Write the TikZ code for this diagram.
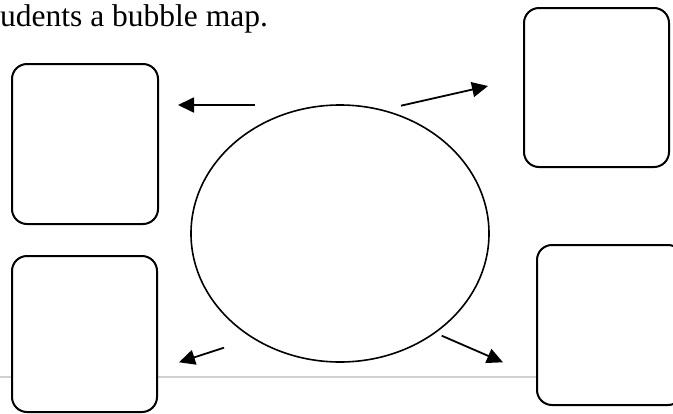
\documentclass[tikz,border=0pt]{standalone}
\usepackage{fontspec}
\setmainfont{Liberation Serif}
\usetikzlibrary{arrows.meta,shapes.geometric}
\begin{document}
\begin{tikzpicture}[x=1pt,y=-1pt,
  bubblebox/.style={draw=black, line width=2pt, rounded corners=15pt, fill=white,
    inner sep=0pt, outer sep=0pt, anchor=north west},
  pointer/.style={line width=1.8pt, -{Triangle[length=16pt,width=15pt]}},
  rule/.style={draw={rgb,255:red,208;green,208;blue,208}, line width=1.8pt},
]
\useasboundingbox (0,0) rectangle (673,413);
\clip (0,0) rectangle (673,413);
% caption
\node[anchor=base west, inner sep=0pt, font=\fontsize{31.5}{36}\selectfont] (caption) at (0,26.7) {udents a bubble map.};
% horizontal rule
\coordinate (ruleL) at (0,376.7);
\coordinate (ruleR) at (673,376.7);
\draw[rule] (ruleL) -- (ruleR);
% boxes
\node[bubblebox, minimum width=146pt, minimum height=160pt] (tl) at (12,64) {};
\node[bubblebox, minimum width=145pt, minimum height=159pt] (tr) at (524,8) {};
\node[bubblebox, minimum width=145pt, minimum height=156pt] (bl) at (12,256) {};
\node[bubblebox, minimum width=146pt, minimum height=160pt] (br) at (537,245) {};
% central bubble
\node[ellipse, draw=black, line width=1.6pt, minimum width=298pt, minimum height=257pt, inner sep=0pt] (bubble) at (340,233.5) {};
% arrows
\coordinate (a1s) at (255,105);
\coordinate (a1e) at (178,105);
\coordinate (a2s) at (401,105.7);
\coordinate (a2e) at (488,86);
\coordinate (a3s) at (224,347.7);
\coordinate (a3e) at (179,362.3);
\coordinate (a4s) at (441.7,335.7);
\coordinate (a4e) at (503,362.3);
\draw[pointer] (a1s) -- (a1e);
\draw[pointer] (a2s) -- (a2e);
\draw[pointer] (a3s) -- (a3e);
\draw[pointer] (a4s) -- (a4e);
\end{tikzpicture}
\end{document}
